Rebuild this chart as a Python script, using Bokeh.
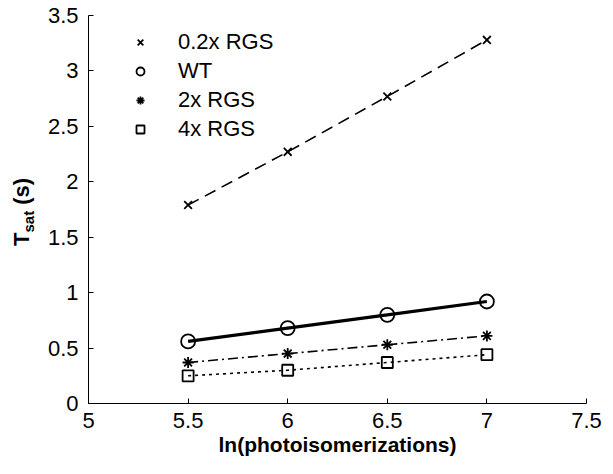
from bokeh.plotting import figure
from bokeh.layouts import row
from bokeh.models import Range1d, FixedTicker, Legend, LegendItem, Div
from bokeh.embed import file_html
from bokeh.resources import INLINE

# ---- data ----
x_vals = [5.5, 6.0, 6.5, 7.0]
rgs02 = [1.79, 2.27, 2.77, 3.28]
wt = [0.56, 0.68, 0.80, 0.92]
rgs2 = [0.37, 0.45, 0.53, 0.61]
rgs4 = [0.25, 0.30, 0.37, 0.44]
series_names = ["0.2x RGS", "WT", "2x RGS", "4x RGS"]

x_ticks = [5, 5.5, 6, 6.5, 7, 7.5]
x_tick_labels = ["5", "5.5", "6", "6.5", "7", "7.5"]
y_ticks = [0, 0.5, 1, 1.5, 2, 2.5, 3, 3.5]
y_tick_labels = ["0", "0.5", "1", "1.5", "2", "2.5", "3", "3.5"]

FONT = "Liberation Sans"

p = figure(width=565, height=466, output_backend="svg", toolbar_location=None,
           x_range=Range1d(5, 7.5), y_range=Range1d(0, 3.5),
           min_border_left=48, min_border_right=19, min_border_top=15, min_border_bottom=63,
           margin=0)
p.outline_line_color = None
p.xgrid.visible = False
p.ygrid.visible = False
p.background_fill_color = "white"
p.border_fill_color = "white"

for ax, ticks, labels in ((p.xaxis[0], x_ticks, x_tick_labels), (p.yaxis[0], y_ticks, y_tick_labels)):
    ax.ticker = FixedTicker(ticks=ticks)
    ax.major_label_overrides = {t: l for t, l in zip(ticks, labels)}
    ax.major_tick_in = 5
    ax.major_tick_out = 0
    ax.minor_tick_line_color = None
    ax.axis_line_color = "black"
    ax.major_tick_line_color = "black"
    ax.major_label_text_font = FONT
    ax.major_label_text_font_size = "22px"
    ax.major_label_text_color = "black"

p.xaxis.major_label_standoff = 9
p.yaxis.major_label_standoff = 10

p.xaxis.axis_label = "ln(photoisomerizations)"
p.xaxis.axis_label_text_font = FONT
p.xaxis.axis_label_text_font_size = "21px"
p.xaxis.axis_label_text_font_style = "bold"
p.xaxis.axis_label_text_color = "black"
p.xaxis.axis_label_standoff = 2

# lines
p.line(x_vals, rgs02, line_color="black", line_width=1.6, line_dash="12 7")
p.line(x_vals, wt, line_color="black", line_width=3.2)
p.line(x_vals, rgs2, line_color="black", line_width=1.6, line_dash="10 4 2 4")
p.line(x_vals, rgs4, line_color="black", line_width=1.6, line_dash="3 4")

# markers
m1 = p.scatter(x_vals, rgs02, marker="x", size=11, line_color="black", line_width=1.8)
m2 = p.scatter(x_vals, wt, marker="circle", size=14, line_color="black", line_width=1.8, fill_color=None)
m3 = p.scatter(x_vals, rgs2, marker="asterisk", size=11, line_color="black", line_width=1.8)
m4 = p.scatter(x_vals, rgs4, marker="square", size=11, line_color="black", line_width=1.8, fill_color=None)

legend = Legend(items=[LegendItem(label=n, renderers=[r]) for n, r in zip(series_names, [m1, m2, m3, m4])],
                location=(42, 261), border_line_color=None, background_fill_alpha=0,
                padding=0, margin=0, spacing=3, glyph_width=20, glyph_height=26, label_height=26,
                label_standoff=28, label_text_font=FONT, label_text_font_size="22px",
                label_text_color="black")
p.add_layout(legend, "center")

# y axis label: T_sat (s), rotated, real text
ylabel_html = (
    '<div style="position:absolute; left:11px; top:246px; transform:rotate(-90deg); '
    'transform-origin:0 0; white-space:nowrap; font-family:\'Liberation Sans\'; '
    'font-weight:bold; font-size:22px; line-height:22px; color:black;">'
    'T<span style="font-size:15px; vertical-align:-5px;">sat</span> (s)</div>'
)
ylab = Div(text=ylabel_html, width=40, height=466, margin=0,
           styles={"position": "relative", "background-color": "white"})

layout = row(ylab, p, spacing=0, margin=0)

open("out.html", "w").write(file_html(layout, INLINE))
